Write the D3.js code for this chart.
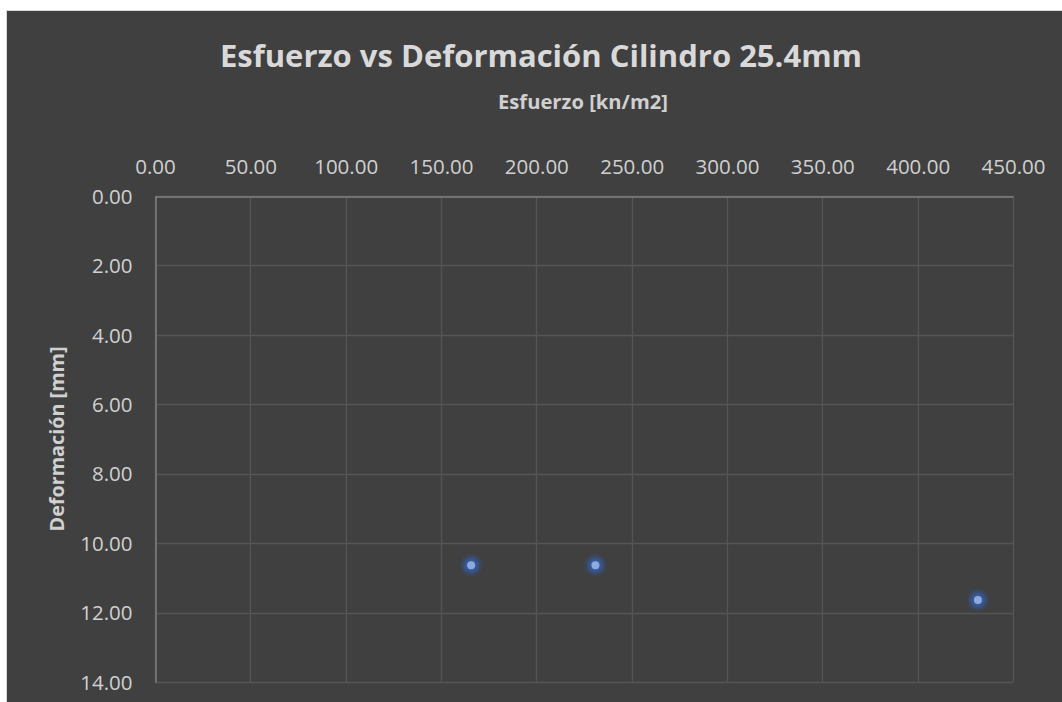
<!DOCTYPE html>
<html>
<head>
<meta charset="utf-8">
<script src="https://cdn.jsdelivr.net/npm/d3@7"></script>
<style>
  html, body { margin: 0; padding: 0; background: #ffffff; overflow: hidden; }
  svg { display: block; }
</style>
</head>
<body>
<svg id="chart" width="1062" height="702"></svg>
<script>
// ---- Data ----
const esfuerzo = [165.8, 231.0, 431.6];      // x values [kn/m2]
const deformacion = [10.64, 10.64, 11.64];    // y values [mm]
const xTicks = [0, 50, 100, 150, 200, 250, 300, 350, 400, 450];
const yTicks = [0, 2, 4, 6, 8, 10, 12, 14];
const titleText = "Esfuerzo vs Deformación Cilindro 25.4mm";
const xTitleText = "Esfuerzo [kn/m2]";
const yTitleText = "Deformación [mm]";

// ---- Layout ----
const svg = d3.select("#chart");
const plot = { left: 155, top: 196, right: 1013, bottom: 682 };
const font = "'Open Sans', 'DejaVu Sans', sans-serif";

// chart background
svg.append("rect")
  .attr("x", 6.5).attr("y", 10.5)
  .attr("width", 1100).attr("height", 760)
  .attr("fill", "#404040")
  .attr("stroke", "#d9d9d9").attr("stroke-width", 1);

const x = d3.scaleLinear().domain([0, 450]).range([plot.left, plot.right]);
const y = d3.scaleLinear().domain([0, 14]).range([plot.top, plot.bottom]);

// gridlines
const grid = svg.append("g");
grid.selectAll("line.v").data(xTicks).join("line")
  .attr("x1", d => Math.round(x(d)) + 0.5).attr("x2", d => Math.round(x(d)) + 0.5)
  .attr("y1", plot.top).attr("y2", plot.bottom)
  .attr("stroke", "#555555").attr("stroke-width", 1.3);
grid.selectAll("line.h").data(yTicks).join("line")
  .attr("y1", d => Math.round(y(d)) + 0.5).attr("y2", d => Math.round(y(d)) + 0.5)
  .attr("x1", plot.left).attr("x2", plot.right)
  .attr("stroke", "#555555").attr("stroke-width", 1.3);

// axis lines (top and left)
const xAxis = d3.axisTop(x).tickValues(xTicks).tickSize(0).tickPadding(0)
  .tickFormat(d => d.toFixed(2));
const yAxis = d3.axisLeft(y).tickValues(yTicks).tickSize(0).tickPadding(0)
  .tickFormat(d => d.toFixed(2));

const gx = svg.append("g").attr("transform", `translate(0,${plot.top + 0.5})`).call(xAxis);
gx.select(".domain").attr("stroke", "#7f7f7f").attr("stroke-width", 1.5);
gx.selectAll("text")
  .attr("y", 173 - plot.top)
  .attr("dy", 0)
  .attr("fill", "#d0d0d0")
  .style("font-family", font).style("font-size", "20.5px");

const gy = svg.append("g").attr("transform", `translate(${plot.left + 0.5},0)`).call(yAxis);
gy.select(".domain").attr("stroke", "#7f7f7f").attr("stroke-width", 1.5);
gy.selectAll("text")
  .attr("x", 132 - plot.left)
  .attr("dy", "0.35em")
  .attr("fill", "#d0d0d0")
  .style("font-family", font).style("font-size", "20.5px");

// glow filter
const defs = svg.append("defs");
const f = defs.append("filter").attr("id", "glow")
  .attr("x", "-100%").attr("y", "-100%").attr("width", "300%").attr("height", "300%");
f.append("feGaussianBlur").attr("stdDeviation", 2.6);

const pts = esfuerzo.map((v, i) => ({ x: v, y: deformacion[i] }));
svg.append("g").selectAll("circle").data(pts).join("circle")
  .attr("cx", d => x(d.x)).attr("cy", d => y(d.y)).attr("r", 8)
  .attr("fill", "#3461b8").attr("opacity", 0.9).attr("filter", "url(#glow)");
svg.append("g").selectAll("circle").data(pts).join("circle")
  .attr("cx", d => x(d.x)).attr("cy", d => y(d.y)).attr("r", 4)
  .attr("fill", "#8eaadc");

// fit text helper
function fitText(sel, target) {
  const w = sel.node().getComputedTextLength();
  const fs = parseFloat(sel.style("font-size"));
  sel.style("font-size", (fs * target / w).toFixed(2) + "px");
}

// title
const title = svg.append("text")
  .attr("x", 541).attr("y", 67)
  .attr("text-anchor", "middle")
  .attr("fill", "#d9d9d9")
  .style("font-family", font).style("font-weight", "bold").style("font-size", "28px")
  .text(titleText);
fitText(title, 642);

// x axis title
const xt = svg.append("text")
  .attr("x", 583).attr("y", 109)
  .attr("text-anchor", "middle")
  .attr("fill", "#d0d0d0")
  .style("font-family", font).style("font-weight", "bold").style("font-size", "17px")
  .text(xTitleText);
fitText(xt, 170);

// y axis title
const yt = svg.append("text")
  .attr("transform", `translate(64,${(plot.top + plot.bottom) / 2}) rotate(-90)`)
  .attr("text-anchor", "middle")
  .attr("fill", "#d0d0d0")
  .style("font-family", font).style("font-weight", "bold").style("font-size", "17px")
  .text(yTitleText);
fitText(yt, 185);
</script>
</body>
</html>
